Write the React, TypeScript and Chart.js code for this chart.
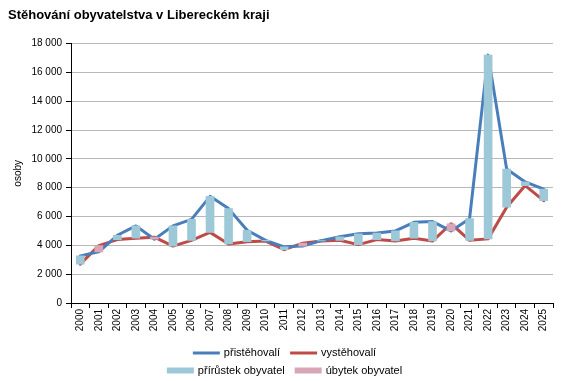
import React, { useEffect, useRef } from 'react';
import { Chart, registerables } from 'chart.js';

Chart.register(...registerables);

const years = ['2000', '2001', '2002', '2003', '2004', '2005', '2006', '2007', '2008', '2009', '2010', '2011', '2012', '2013', '2014', '2015', '2016', '2017', '2018', '2019', '2020', '2021', '2022', '2023', '2024', '2025'];
const immigrants = [3270, 3550, 4700, 5350, 4430, 5350, 5800, 7400, 6550, 5050, 4350, 3900, 3950, 4330, 4600, 4800, 4850, 5000, 5600, 5650, 5000, 5850, 17200, 9300, 8400, 7900];
const emigrants = [2700, 3980, 4400, 4500, 4570, 3950, 4350, 4900, 4100, 4250, 4300, 3700, 4150, 4300, 4350, 4050, 4400, 4300, 4500, 4300, 5500, 4350, 4450, 6650, 8150, 7100];

const TITLE = 'Stěhování obyvatelstva v Libereckém kraji';
const Y_TITLE = 'osoby';
const LABEL_IN = 'přistěhovalí';
const LABEL_OUT = 'vystěhovalí';
const LABEL_GAIN = 'přírůstek obyvatel';
const LABEL_LOSS = 'úbytek obyvatel';

const FONT = '"Liberation Sans", Arial, Helvetica, sans-serif';
const BLUE = '#4A7EBB';
const RED = '#BE4B48';
const LIGHT_BLUE = '#9DC8D8';
const PINK = '#D9A6B7';

const gain = immigrants.map((v, i) => (v >= emigrants[i] ? [emigrants[i], v] : null));
const loss = immigrants.map((v, i) => (v < emigrants[i] ? [v, emigrants[i]] : null));

const fmt = (v: number) => String(Math.round(v)).replace(/\B(?=(\d{3})+(?!\d))/g, ' ');

const twoRowLegend = {
  id: 'twoRowLegend',
  afterDraw(chart: any) {
    const ctx = chart.ctx as CanvasRenderingContext2D;
    const ds = chart.data.datasets;
    const rows = [
      [0, 1],
      [2, 3],
    ];
    const rowY = [chart.height - 28, chart.height - 10.5];
    const boxW = 27;
    const gap = 4;
    const itemGap = 10;
    ctx.save();
    ctx.font = `11px ${FONT}`;
    ctx.textBaseline = 'middle';
    ctx.textAlign = 'left';
    rows.forEach((row, r) => {
      const widths = row.map((i) => boxW + gap + ctx.measureText(ds[i].label).width);
      const total = widths.reduce((a, b) => a + b, 0) + itemGap * (row.length - 1);
      let x = chart.width / 2 - total / 2;
      const y = rowY[r];
      row.forEach((i, k) => {
        const d = ds[i];
        if (d.type === 'line') {
          ctx.strokeStyle = d.borderColor;
          ctx.lineWidth = 3;
          ctx.beginPath();
          ctx.moveTo(x, y);
          ctx.lineTo(x + boxW, y);
          ctx.stroke();
        } else {
          ctx.fillStyle = d.backgroundColor;
          ctx.fillRect(x, y - 3, boxW, 6);
        }
        ctx.fillStyle = '#000';
        ctx.fillText(d.label, x + boxW + gap, y);
        x += widths[k] + itemGap;
      });
    });
    ctx.restore();
  },
};

export default function App() {
  const ref = useRef<HTMLCanvasElement | null>(null);

  useEffect(() => {
    if (!ref.current) return;
    const chart = new Chart(ref.current, {
      type: 'bar',
      data: {
        labels: years,
        datasets: [
          {
            type: 'line',
            label: LABEL_IN,
            data: immigrants,
            borderColor: BLUE,
            backgroundColor: BLUE,
            borderWidth: 3,
            borderJoinStyle: 'round',
            borderCapStyle: 'round',
            pointRadius: 0,
            tension: 0,
            order: 1,
          },
          {
            type: 'line',
            label: LABEL_OUT,
            data: emigrants,
            borderColor: RED,
            backgroundColor: RED,
            borderWidth: 3,
            borderJoinStyle: 'round',
            borderCapStyle: 'round',
            pointRadius: 0,
            tension: 0,
            order: 1,
          },
          {
            type: 'bar',
            label: LABEL_GAIN,
            data: gain as any,
            backgroundColor: LIGHT_BLUE,
            barThickness: 8,
            grouped: false,
            order: 0,
          },
          {
            type: 'bar',
            label: LABEL_LOSS,
            data: loss as any,
            backgroundColor: PINK,
            barThickness: 8,
            grouped: false,
            order: 0,
          },
        ] as any,
      },
      options: {
        responsive: false,
        animation: false,
        layout: { padding: { left: 8, right: 16, top: 8, bottom: 38 } },
        plugins: {
          legend: { display: false },
          tooltip: { enabled: false },
          title: {
            display: true,
            text: TITLE,
            align: 'start',
            color: '#000',
            font: { family: FONT, size: 13, weight: 'bold' },
            padding: { top: 0, bottom: 20 },
          },
        },
        scales: {
          x: {
            afterFit: (s: any) => {
              s.height = 40;
            },
            border: { color: '#000', width: 1 },
            grid: {
              display: true,
              drawOnChartArea: false,
              offset: true,
              tickColor: '#000',
              tickLength: 5,
            },
            ticks: {
              color: '#000',
              font: { family: FONT, size: 10 },
              minRotation: 90,
              maxRotation: 90,
              padding: 1,
              autoSkip: false,
            },
          },
          y: {
            min: 0,
            max: 18000,
            afterFit: (s: any) => {
              s.width = 63;
            },
            border: { color: '#000', width: 1 },
            grid: {
              color: '#B8B8B8',
              tickColor: '#000',
              tickLength: 5,
            },
            ticks: {
              stepSize: 2000,
              color: '#000',
              font: { family: FONT, size: 10 },
              padding: 4,
              callback: (v: any) => fmt(Number(v)),
            },
            title: {
              display: true,
              text: Y_TITLE,
              color: '#000',
              font: { family: FONT, size: 10 },
              padding: { top: 4, bottom: 0 },
            },
          },
        },
      },
      plugins: [twoRowLegend],
    });
    return () => chart.destroy();
  }, []);

  return (
    <div style={{ position: 'fixed', left: 0, top: 0, width: 569, height: 381, background: '#fff' }}>
      <canvas ref={ref} width={569} height={381} style={{ width: 569, height: 381, display: 'block' }} />
    </div>
  );
}
